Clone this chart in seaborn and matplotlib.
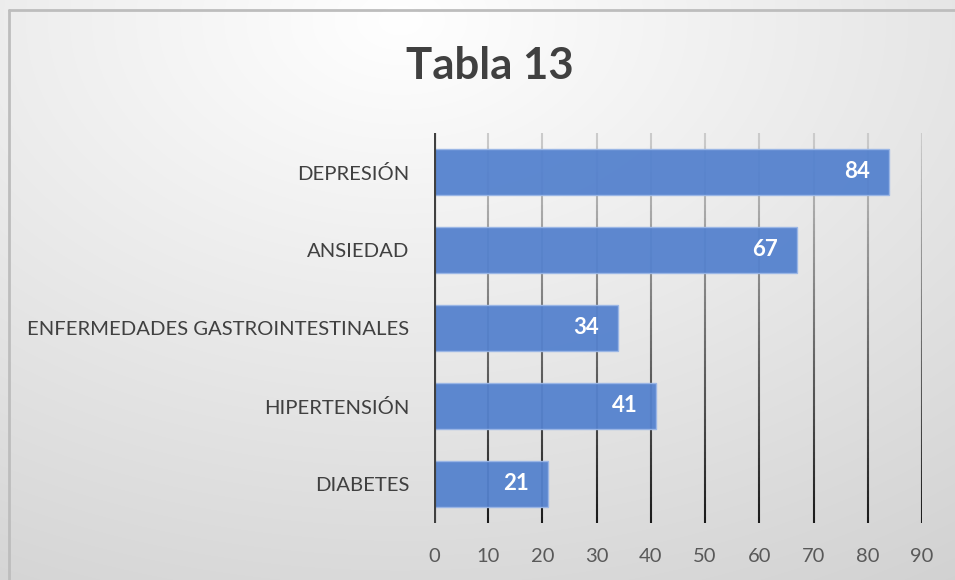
import numpy as np
import matplotlib
matplotlib.use("Agg")
import matplotlib.pyplot as plt
import seaborn as sns
import pandas as pd
from matplotlib.collections import LineCollection

categories = ["DEPRESIÓN", "ANSIEDAD", "ENFERMEDADES GASTROINTESTINALES", "HIPERTENSIÓN", "DIABETES"]
values = [84, 67, 34, 41, 21]
xticks = [0, 10, 20, 30, 40, 50, 60, 70, 80, 90]
title = "Tabla 13"

sns.set_theme(style="white")
plt.rcParams['font.family'] = ['Lato', 'DejaVu Sans']

df = pd.DataFrame({"cat": categories, "val": values})

fig = plt.figure(figsize=(9.55, 5.8), dpi=100)

# background gradient
bg = fig.add_axes([0, 0, 1, 1], zorder=-10)
H, W = 580, 955
yy, xx = np.mgrid[0:H, 0:W]
cx, cy = 400, 20
d = np.sqrt(((xx - cx) / W) ** 2 + ((yy - cy) / H * 0.9) ** 2)
v = 1.0 - 0.17 * np.clip(d / 1.0, 0, 1.3)
img = np.dstack([v, v, v])
bg.imshow(img, extent=[0, 1, 0, 1], aspect='auto', origin='upper')
bg.set_xlim(0, 1); bg.set_ylim(0, 1)
bg.plot([9 / W, 9 / W], [0, 1 - 10 / H], color="#BDBDBD", lw=2)
bg.plot([9 / W, 1], [1 - 10 / H, 1 - 10 / H], color="#BDBDBD", lw=2)
bg.axis('off')

ax = fig.add_axes([434 / 955, 1 - 523 / 580, (922 - 434) / 955, (523 - 133) / 580])
ax.patch.set_alpha(0)

sns.barplot(data=df, y="cat", x="val", orient="h", ax=ax, color="#5582CE",
            saturation=1, width=0.59, alpha=0.95, edgecolor="#9AB6E6",
            linewidth=1, zorder=3)

ax.set_xlim(0, 90)
ax.set_ylim(4.5, -0.5)
ax.set_xticks(xticks)
ax.set_xticklabels([str(t) for t in xticks])
ax.set_xlabel("")
ax.set_ylabel("")
for s in ax.spines.values():
    s.set_visible(False)
ax.tick_params(axis='x', length=0, pad=18, labelsize=14.5, labelcolor="#595959")
ax.tick_params(axis='y', length=0, pad=18, labelsize=14.6, labelcolor="#404040")
ax.grid(False)

# gradient gridlines
n = 60
ys = np.linspace(-0.5, 4.5, n + 1)
top = np.array([0.80, 0.80, 0.80])
bot = np.array([0.10, 0.10, 0.10])
for t in xticks[1:]:
    segs = [[(t, ys[i]), (t, ys[i + 1])] for i in range(n)]
    cols = [tuple(top + (bot - top) * ((i + 0.5) / n)) for i in range(n)]
    lc = LineCollection(segs, colors=cols, linewidths=1.5, zorder=2)
    ax.add_collection(lc)
ax.axvline(0, color="#404040", lw=3, zorder=4)

for i, val in enumerate(values):
    ax.text(val - 3.5, i, str(val), ha='right', va='center', color='white',
            fontsize=16, fontweight='bold', zorder=5)

fig.text(490 / 955, 1 - 66 / 580, title, ha='center', va='center', fontsize=31.5,
         fontweight='bold', color="#404040")

fig.savefig("out.png", dpi=100)
